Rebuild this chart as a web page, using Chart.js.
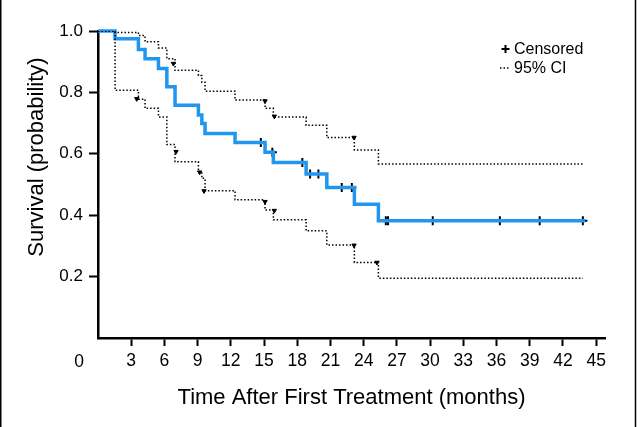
<!DOCTYPE html>
<html>
<head>
<meta charset="utf-8">
<script src="https://cdn.jsdelivr.net/npm/chart.js@4.4.1/dist/chart.umd.min.js"></script>
<style>
  html, body { margin: 0; padding: 0; background: #fff; }
  #wrap { width: 640px; height: 427px; position: relative; }
</style>
</head>
<body>
<div id="wrap"><canvas id="km"></canvas></div>
<script>
// Kaplan-Meier estimate (step changes at event times)
const kmTimes = [0, 1.54, 3.65, 4.25, 5.46, 6.22, 6.96, 9.07, 9.38, 9.67, 12.38, 15.09, 15.84, 18.8, 20.67, 23.16, 25.33, 44.0];
const kmSurv  = [1.0, 0.975, 0.94, 0.91, 0.878, 0.818, 0.758, 0.726, 0.699, 0.666, 0.637, 0.605, 0.572, 0.534, 0.49, 0.436, 0.382, 0.382];

// 95% confidence band
const ciTimes = [0, 1.54, 3.65, 4.25, 5.46, 6.22, 6.96, 9.07, 9.38, 9.67, 12.38, 15.09, 15.84, 18.8, 20.67, 23.16, 25.33, 43.8];
const ciUpper = [1.0, 0.995, 0.985, 0.965, 0.945, 0.91, 0.872, 0.855, 0.833, 0.804, 0.775, 0.748, 0.72, 0.693, 0.653, 0.612, 0.567, 0.567];
const ciLower = [1.0, 0.807, 0.778, 0.748, 0.72, 0.63, 0.574, 0.542, 0.52, 0.48, 0.45, 0.417, 0.385, 0.349, 0.303, 0.246, 0.195, 0.195];

// censored observations
const censorTimes = [14.71, 15.75, 18.46, 19.16, 19.91, 22.02, 22.93, 26.0, 26.2, 30.24, 36.3, 39.9, 43.8];
const censorSurv  = [0.637, 0.605, 0.572, 0.534, 0.534, 0.49, 0.49, 0.382, 0.382, 0.382, 0.382, 0.382, 0.382];

// small marks sitting on the CI curves
const upperMarkT = [6.81, 15.09, 15.93, 23.13];
const upperMarkP = [0.894, 0.772, 0.722, 0.653];
const lowerMarkT = [3.5, 7.05, 9.18, 9.58, 15.09, 15.93, 23.13, 25.2];
const lowerMarkP = [0.779, 0.607, 0.540, 0.479, 0.444, 0.415, 0.302, 0.246];

const xTicks = [3, 6, 9, 12, 15, 18, 21, 24, 27, 30, 33, 36, 39, 42, 45];
const yTicks = [0.2, 0.4, 0.6, 0.8, 1.0];

const FONT = '"Liberation Sans", Arial, Helvetica, sans-serif';
const BLUE = '#2196ef';

const pts = (xs, ys) => xs.map((v, i) => ({ x: v, y: ys[i] }));

const extras = {
  id: 'extras',
  afterDraw(chart) {
    const { ctx, scales: { x } } = chart;
    ctx.save();
    ctx.fillStyle = '#000';
    ctx.strokeStyle = '#000';

    // origin label
    ctx.font = '17.5px ' + FONT;
    ctx.textAlign = 'center';
    ctx.textBaseline = 'middle';
    ctx.fillText('0', x.getPixelForValue(0) - 19, 362);

    // y axis title
    ctx.save();
    ctx.translate(37, 157);
    ctx.rotate(-Math.PI / 2);
    ctx.font = '22px ' + FONT;
    ctx.fillText('Survival (probability)', 0, 0);
    ctx.restore();

    // legend
    ctx.lineWidth = 2;
    ctx.beginPath();
    ctx.moveTo(501.5, 49); ctx.lineTo(509.5, 49);
    ctx.moveTo(505.5, 45); ctx.lineTo(505.5, 53);
    ctx.stroke();
    ctx.lineWidth = 1.5;
    ctx.setLineDash([1.5, 2]);
    ctx.beginPath();
    ctx.moveTo(500, 68); ctx.lineTo(510, 68);
    ctx.stroke();
    ctx.setLineDash([]);
    ctx.font = '16px ' + FONT;
    ctx.textAlign = 'left';
    ctx.fillText('Censored', 514, 49.5);
    ctx.fillText('95% CI', 514, 68.5);

    // side frame lines
    ctx.lineWidth = 1.5;
    ctx.beginPath();
    ctx.moveTo(0.75, 0); ctx.lineTo(0.75, 427);
    ctx.moveTo(635.5, 0); ctx.lineTo(635.5, 427);
    ctx.stroke();
    ctx.restore();
  }
};

const ciStyle = {
  borderColor: '#000',
  borderWidth: 1.5,
  borderDash: [1.5, 2],
  pointRadius: 0,
  stepped: 'before',
  fill: false
};

const markStyle = {
  type: 'scatter',
  pointStyle: 'triangle',
  rotation: 180,
  radius: 2.5,
  backgroundColor: '#000',
  borderColor: '#000',
  borderWidth: 1
};

new Chart(document.getElementById('km').getContext('2d'), {
  type: 'line',
  data: {
    datasets: [
      { ...ciStyle, label: 'Upper CI', data: pts(ciTimes, ciUpper) },
      { ...ciStyle, label: 'Lower CI', data: pts(ciTimes, ciLower) },
      { ...markStyle, label: 'Upper marks', data: pts(upperMarkT, upperMarkP) },
      { ...markStyle, label: 'Lower marks', data: pts(lowerMarkT, lowerMarkP) },
      {
        label: 'Survival',
        data: pts(kmTimes, kmSurv),
        borderColor: BLUE,
        borderWidth: 3.5,
        pointRadius: 0,
        stepped: 'before',
        fill: false,
        clip: false
      },
      {
        type: 'scatter',
        label: 'Censored',
        data: pts(censorTimes, censorSurv),
        pointStyle: 'cross',
        radius: 4.5,
        borderColor: '#000',
        borderWidth: 2,
        clip: false
      }
    ]
  },
  options: {
    responsive: true,
    maintainAspectRatio: false,
    animation: false,
    layout: { padding: { top: 31, right: 35, left: 0, bottom: 0 } },
    plugins: { legend: { display: false }, tooltip: { enabled: false } },
    scales: {
      x: {
        type: 'linear',
        min: 0,
        max: 45.8,
        afterBuildTicks: s => { s.ticks = xTicks.map(v => ({ value: v })); },
        afterFit: s => { s.height = 89; },
        border: { color: '#000', width: 2.5 },
        grid: { drawOnChartArea: false, color: '#000', tickLength: 8, tickWidth: 2 },
        ticks: { color: '#000', font: { family: FONT, size: 17.5 }, padding: 5, maxRotation: 0, autoSkip: false },
        title: {
          display: true,
          text: 'Time After First Treatment (months)',
          color: '#000',
          font: { family: FONT, size: 22 },
          padding: { top: 0, bottom: 16 }
        }
      },
      y: {
        type: 'linear',
        min: 0,
        max: 1.0,
        afterBuildTicks: s => { s.ticks = yTicks.map(v => ({ value: v })); },
        afterFit: s => { s.width = 98; },
        border: { color: '#000', width: 2.5 },
        grid: { drawOnChartArea: false, color: '#000', tickLength: 9, tickWidth: 2 },
        ticks: { color: '#000', font: { family: FONT, size: 17 }, padding: 6, callback: v => v.toFixed(1) }
      }
    }
  },
  plugins: [extras]
});
</script>
</body>
</html>
